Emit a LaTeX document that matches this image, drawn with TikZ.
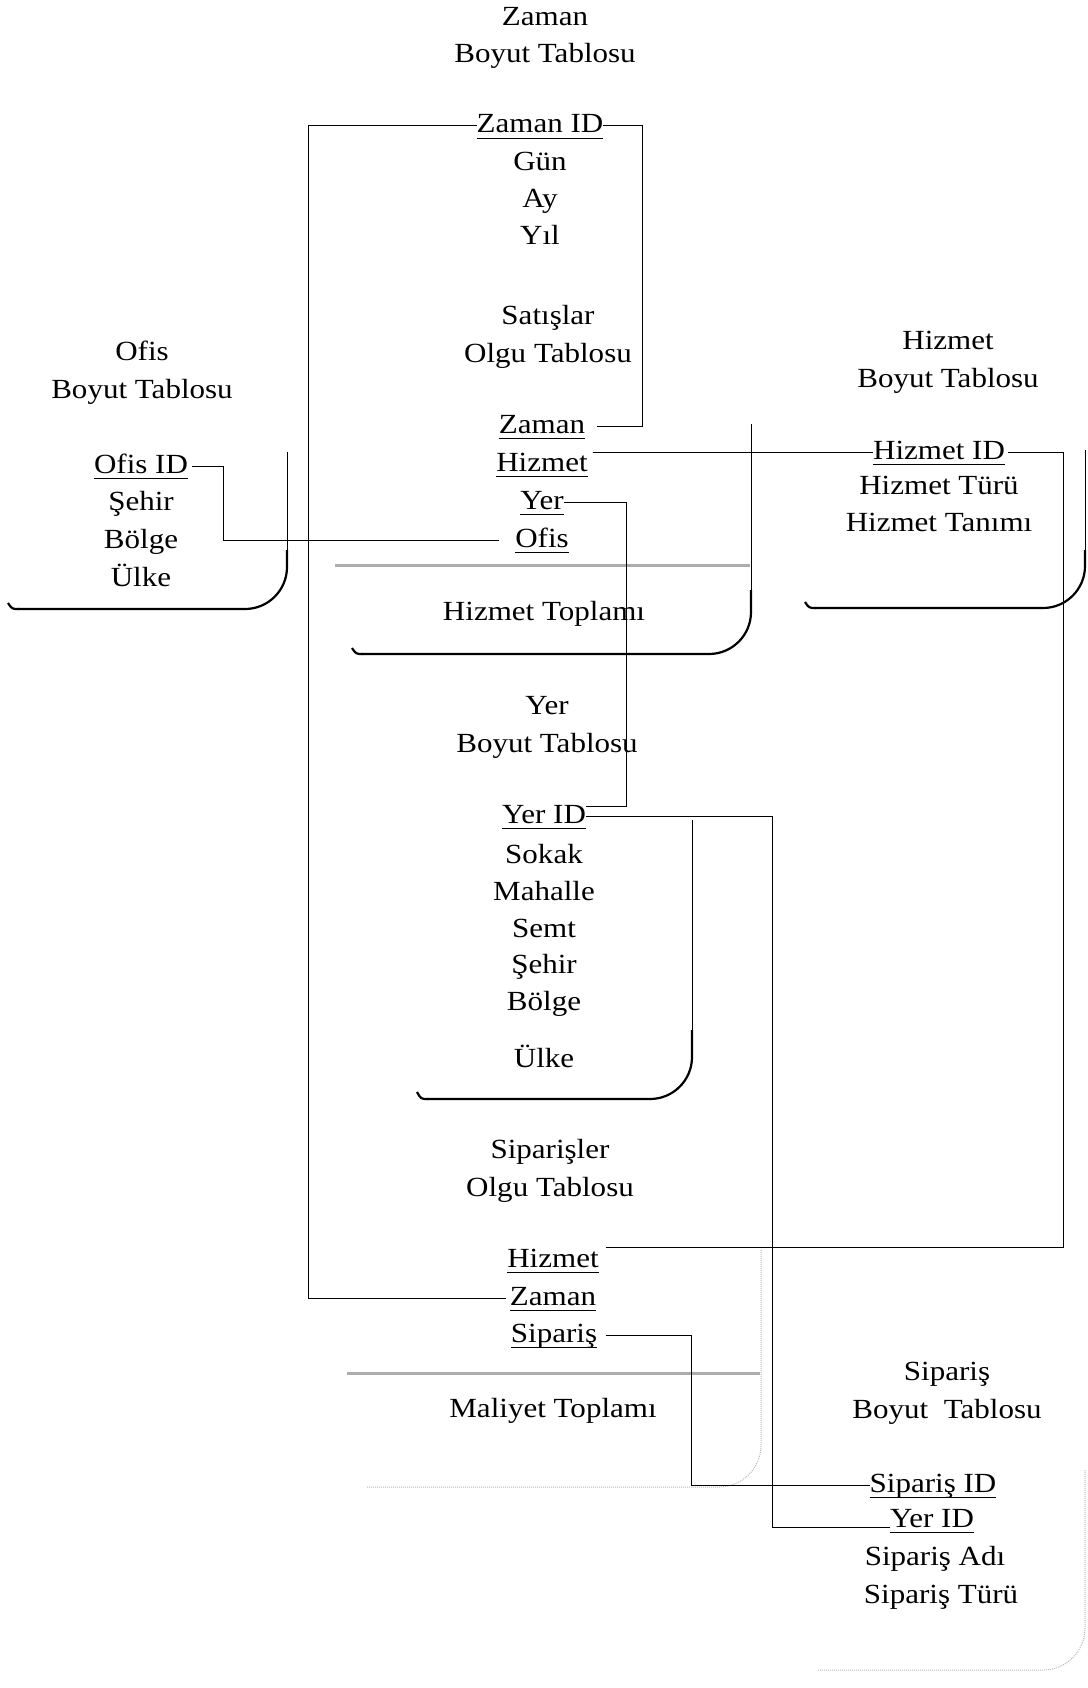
\documentclass[tikz,border=0pt]{standalone}
\usepackage{fontspec}
\setmainfont{Liberation Serif}[FakeStretch=1.12]
\newcommand{\keyfld}[1]{\setbox0\hbox{#1}\rlap{\rule[-6pt]{\wd0}{1.4pt}}\box0}
\begin{document}
\begin{tikzpicture}[
    x=1pt, y=-1pt,
    font=\fontsize{27.7}{37.5}\selectfont,
    every node/.style={inner sep=0pt, outer sep=0pt},
    title/.style={align=center, anchor=base}, % tablo basliklari (son satirin tabani)
    field/.style={anchor=base, text height=20pt, text depth=6pt}, % alanlar
    link/.style={line width=1pt},
    edgethin/.style={line width=0.8pt},
    edgethick/.style={line width=2.2pt, rounded corners=42pt},
    curl/.style={line width=2.2pt},
    faint/.style={gray!55, densely dotted, line width=1pt, rounded corners=42pt},
    sepline/.style={gray!65, line width=3pt}
]
\useasboundingbox (0,0) rectangle (1087,1688);

% Zaman boyut tablosu
\node[title] (zamanTitle) at (545,63) {Zaman\\Boyut Tablosu};
\node[field] (zamanID)  at (540,133) {\keyfld{Zaman ID}};
\node[field] (zamanGun) at (540,171) {Gün};
\node[field] (zamanAy)  at (540,208) {Ay};
\node[field] (zamanYil) at (540,245) {Yıl};

% Satislar olgu tablosu
\node[title] (satisTitle)  at (548,362) {Satışlar\\Olgu Tablosu};
\node[field] (satisZaman)  at (542,433) {\keyfld{Zaman}};
\node[field] (satisHizmet) at (542,471) {\keyfld{Hizmet}};
\node[field] (satisYer)    at (542,509) {\keyfld{Yer}};
\node[field] (satisOfis)   at (542,547) {\keyfld{Ofis}};
\node[field] (satisToplam) at (544,620) {Hizmet Toplamı};
\draw[sepline] (335,565) -- (750,565);
\draw[edgethin] (751,424) -- (751,600);
\draw[edgethick] (751,590) -- (751,654) -- (362,654);
\draw[curl] (363,654) .. controls (356,654) .. (352,648);

% Ofis boyut tablosu
\node[title] (ofisTitle) at (142,398) {Ofis\\Boyut Tablosu};
\node[field] (ofisID)    at (141,473) {\keyfld{Ofis ID}};
\node[field] (ofisSehir) at (141,510) {Şehir};
\node[field] (ofisBolge) at (141,548) {Bölge};
\node[field] (ofisUlke)  at (141,586) {Ülke};
\draw[edgethin] (287,452) -- (287,560);
\draw[edgethick] (287,550) -- (287,609) -- (18,609);
\draw[curl] (19,609) .. controls (12,609) .. (8,603);

% Hizmet boyut tablosu
\node[title] (hizmetTitle) at (948,387) {Hizmet\\Boyut Tablosu};
\node[field] (hizmetID)    at (939,459) {\keyfld{Hizmet ID}};
\node[field] (hizmetTur)   at (939,494) {Hizmet Türü};
\node[field] (hizmetTanim) at (939,531) {Hizmet Tanımı};
\draw[edgethin] (1085,450) -- (1085,560);
\draw[edgethick] (1085,550) -- (1085,608) -- (815,608);
\draw[curl] (816,608) .. controls (809,608) .. (805,602);

% Yer boyut tablosu
\node[title] (yerTitle) at (547,752) {Yer\\Boyut Tablosu};
\node[field] (yerID)     at (544,823) {\keyfld{Yer ID}};
\node[field] (yerSokak)  at (544,863) {Sokak};
\node[field] (yerMahalle) at (544,900) {Mahalle};
\node[field] (yerSemt)   at (544,937) {Semt};
\node[field] (yerSehir)  at (544,973) {Şehir};
\node[field] (yerBolge)  at (544,1010) {Bölge};
\node[field] (yerUlke)   at (544,1067) {Ülke};
\draw[edgethin] (692,820) -- (692,1040);
\draw[edgethick] (692,1030) -- (692,1099) -- (427,1099);
\draw[curl] (428,1099) .. controls (421,1099) .. (417,1092);

% Siparisler olgu tablosu
\node[title] (sipTitle)   at (550,1196) {Siparişler\\Olgu Tablosu};
\node[field] (sipHizmet)  at (553,1267) {\keyfld{Hizmet}};
\node[field] (sipZaman)   at (553,1305) {\keyfld{Zaman}};
\node[field] (sipSiparis) at (554,1342) {\keyfld{Sipariş}};
\node[field] (sipToplam)  at (553,1417) {Maliyet Toplamı};
\draw[sepline] (347,1373) -- (760,1373);
\draw[faint] (761,1250) -- (761,1487) -- (367,1487);

% Siparis boyut tablosu
\node[title] (siparisTitle) at (947,1418) {Sipariş\\Boyut~ Tablosu};
\node[field] (siparisID)  at (933,1492) {\keyfld{Sipariş ID}};
\node[field] (siparisYer) at (932,1527) {\keyfld{Yer ID}};
\node[field] (siparisAd)  at (935,1565) {Sipariş Adı};
\node[field] (siparisTur) at (941,1603) {Sipariş Türü};
\draw[faint] (1085,1470) -- (1085,1670) -- (818,1670);

% baglantilar
\coordinate (zamanRail) at (308,0);
\coordinate (zamanRail2) at (642,0);
\coordinate (ofisRail) at (223,0);
\coordinate (yerRail) at (626,0);
\coordinate (yerRail2) at (772,0);
\coordinate (hizmetRail) at (1063,0);
\coordinate (sipRail) at (691,0);
\coordinate (yerIDtop) at ([yshift=10pt]yerID.east);

\draw[link] (zamanID.west) -| (zamanRail |- sipZaman.west) -- ([xshift=-4pt]sipZaman.west);
\draw[link] (zamanID.east) -| (zamanRail2 |- satisZaman.east) -- ([xshift=12pt]satisZaman.east);
\draw[link] ([xshift=5pt]satisHizmet.east |- hizmetID.west) -- (hizmetID.west);
\draw[link] (satisYer.east) -| (yerRail |- yerIDtop) -- (yerIDtop);
\draw[link] ([xshift=-16pt]satisOfis.west) -| (ofisRail |- ofisID.east) -- ([xshift=4pt]ofisID.east);
\draw[link] (yerID.east) -| (yerRail2 |- siparisYer.base west) -- (siparisYer.base west);
\draw[link] ([xshift=3pt]hizmetID.east) -| (hizmetRail |- sipHizmet.north east) -- ([xshift=7pt]sipHizmet.north east);
\draw[link] ([xshift=9pt]sipSiparis.east) -| (sipRail |- siparisID.west) -- (siparisID.west);
\end{tikzpicture}
\end{document}
